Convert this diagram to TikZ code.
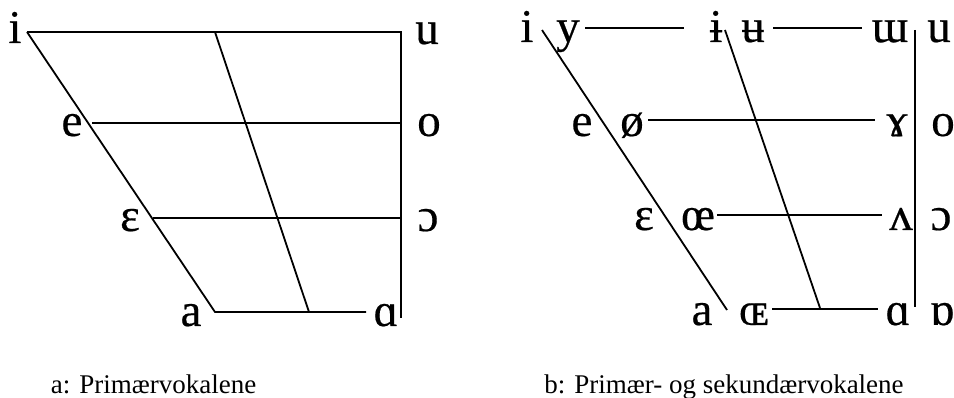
\documentclass[tikz,border=0pt]{standalone}
\usepackage{fontspec}
\setmainfont{Liberation Serif}
\newfontfamily\ipafont[FakeBold=0.4]{Liberation Serif}
\usetikzlibrary{positioning}
\tikzset{
  chartline/.style={line width=1.8pt, color=black, line cap=butt},
  vowel/.style={font=\ipafont\fontsize{47}{47}\selectfont, anchor=base, inner sep=0pt},
  capt/.style={font=\fontsize{27}{27}\selectfont, anchor=base, inner sep=0pt}
}

\begin{document}
\begin{tikzpicture}[x=1pt, y=-1pt]
  \useasboundingbox (0,0) rectangle (954,398);

  % a: primary vowels (corners of the chart)
  \coordinate (aTL) at (27,32);
  \coordinate (aTM) at (215,32);
  \coordinate (aTR) at (401,32);
  \coordinate (aEL) at (92,123);
  \coordinate (aER) at (401,123);
  \coordinate (aOL) at (153,218);
  \coordinate (aOR) at (401,218);
  \coordinate (aBL) at (215,312);
  \coordinate (aBM) at (309,312);
  \coordinate (aBR) at (366,312);
  \coordinate (aVB) at (401,318);

  \draw[chartline] (aTL) -- (aTR) -- (aVB);
  \draw[chartline] (aTL) -- (aBL) -- (aBR);
  \draw[chartline] (aTM) -- (aBM);
  \draw[chartline] (aEL) -- (aER);
  \draw[chartline] (aOL) -- (aOR);

  % Labels
  \node[vowel] (ai) at (15,43) {i};
  \node[vowel] (au) at (427,44) {u};
  \node[vowel] (ae) at (72,136) {e};
  \node[vowel] (ao) at (429,136) {o};
  \node[vowel] (aeps) at (130,231) {ɛ};
  \node[vowel] (aopen) at (428,231) {ɔ};
  \node[vowel] (aa) at (191,326) {a};
  \node[vowel] (aalpha) at (386,326) {ɑ};
  \node[capt] (acap) at (153.5,393) {a: Primærvokalene};

  % b: primary and secondary vowels
  \coordinate (bTL) at (542,30);
  \coordinate (bTM) at (725,30);
  \coordinate (bBL) at (727,310);
  \coordinate (bBM) at (820,308);
  \coordinate (bVT) at (915,30);
  \coordinate (bVB) at (915,307);

  \draw[chartline] (bTL) -- (bBL);
  \draw[chartline] (bTM) -- (bBM);
  \draw[chartline] (bVT) -- (bVB);
  \draw[chartline] (585,28) -- (684,28);
  \draw[chartline] (773,28) -- (862,28);
  \draw[chartline] (648,120) -- (875,120);
  \draw[chartline] (717,215) -- (882,215);
  \draw[chartline] (772,309) -- (878,309);

  % Labels
  \node[vowel] (bi) at (527,42) {i};
  \node[vowel] (by) at (568,42) {y};
  \node[vowel] (bbi) at (716,42) {ɨ};
  \node[vowel] (bbu) at (753,42) {ʉ};
  \node[vowel] (bmu) at (890,42) {ɯ};
  \node[vowel] (bu) at (939,42) {u};
  \node[vowel] (be) at (582,136) {e};
  \node[vowel] (bslo) at (632,136) {ø};
  \node[vowel] (bram) at (897,136) {ɤ};
  \node[vowel] (bo) at (943,136) {o};
  \node[vowel] (beps) at (644,230) {ɛ};
  \node[vowel] (boe) at (698,230) {œ};
  \node[vowel] (bwedge) at (901,230) {ʌ};
  \node[vowel] (bopen) at (941,230) {ɔ};
  \node[vowel] (ba) at (702,325) {a};
  \node[vowel] (bOE) at (754,325) {ɶ};
  \node[vowel] (balpha) at (898,325) {ɑ};
  \node[vowel] (bturn) at (942,325) {ɒ};
  \node[capt] (bcap) at (724,393) {b: Primær- og sekundærvokalene};
\end{tikzpicture}
\end{document}
